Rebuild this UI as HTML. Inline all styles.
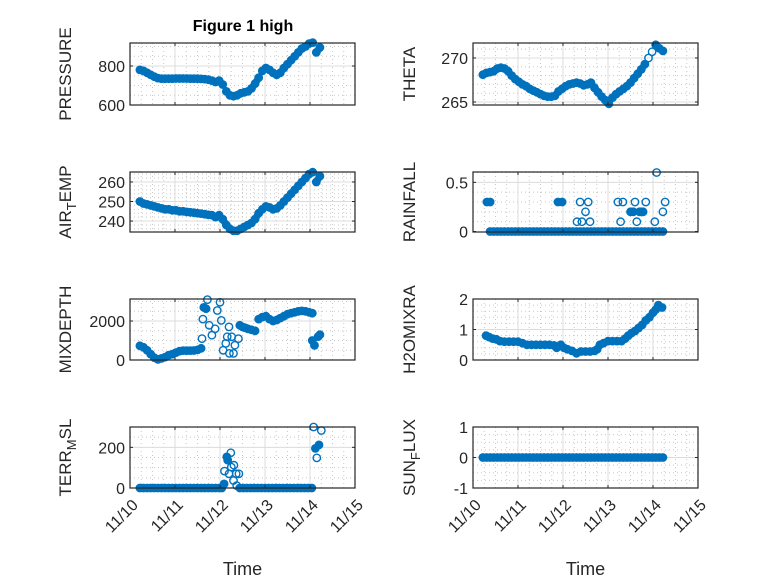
<!DOCTYPE html>
<html><head><meta charset="utf-8"><style>
html,body{margin:0;padding:0;background:#fff;}
svg{display:block;font-family:"Liberation Sans",sans-serif;}
</style></head><body>
<svg id="fig" width="778" height="583" viewBox="0 0 778 583" xmlns="http://www.w3.org/2000/svg">
<rect width="778" height="583" fill="#fff"/>
<text x="243" y="31" text-anchor="middle" font-size="16" font-weight="bold" fill="#000">Figure 1 high</text>
</svg>
<script>
// shared sample times (days after 11/10)
const T = [0.22,0.30,0.38,0.46,0.54,0.62,0.70,0.78,0.86,0.94,1.02,1.10,1.18,1.26,1.34,1.42,1.50,1.58,1.66,1.74,1.82,1.90,1.98,2.06,2.14,2.22,2.30,2.38,2.46,2.54,2.62,2.70,2.78,2.86,2.94,3.02,3.10,3.18,3.26,3.34,3.42,3.50,3.58,3.66,3.74,3.82,3.90,3.98,4.06,4.14,4.22];
const pressure = [780,775,765,755,745,738,735,735,735,735,736,736,736,736,735,735,735,734,733,730,725,718,725,705,670,650,645,650,660,665,670,685,710,740,775,790,780,765,755,765,790,810,830,850,870,890,900,915,920,870,895];
const airTemp = [250,249,248.5,248,247.5,247,246.5,246,246,245.5,245.5,245,245,244.7,244.5,244.3,244,243.8,243.5,243.2,243,242,243,241,238,236,235,235,236,237,238,239,241,244,246,247.5,247,246,246.5,248,250,252,254,256,258,260,262,264,265,260,263];
const theta = [268.1,268.3,268.4,268.5,268.8,268.9,268.8,268.5,268.0,267.6,267.3,267.0,266.8,266.5,266.3,266.1,265.9,265.7,265.6,265.6,265.7,266.2,266.5,266.8,267.0,267.1,267.2,267.1,266.9,267.0,267.2,266.6,266.1,265.6,265.2,264.8,265.5,265.9,266.2,266.5,266.8,267.2,267.7,268.2,268.7,269.3,270.0,270.7,271.5,271.1,270.8];
const h2oT = [0.29,0.36,0.44,0.52,0.6,0.7,0.8,0.9,1.0,1.1,1.2,1.3,1.4,1.5,1.6,1.7,1.8,1.86,1.95,2.02,2.1,2.2,2.3,2.4,2.5,2.6,2.7,2.76,2.82,2.9,3.0,3.1,3.2,3.3,3.38,3.45,3.52,3.6,3.68,3.76,3.84,3.92,4.0,4.06,4.12,4.2];
const h2o = [0.8,0.75,0.7,0.68,0.62,0.6,0.6,0.6,0.6,0.55,0.5,0.5,0.5,0.5,0.5,0.5,0.48,0.4,0.5,0.4,0.35,0.3,0.22,0.28,0.28,0.28,0.3,0.35,0.5,0.55,0.62,0.62,0.62,0.62,0.7,0.8,0.88,0.95,1.05,1.15,1.3,1.4,1.55,1.65,1.8,1.72];
const sunFlux = [0,0,0,0,0,0,0,0,0,0,0,0,0,0,0,0,0,0,0,0,0,0,0,0,0,0,0,0,0,0,0,0,0,0,0,0,0,0,0,0,0,0,0,0,0,0,0,0,0,0,0];
const rainT = [0.31,0.38,1.89,1.98,2.31,2.38,2.42,2.5,2.56,2.6,3.22,3.28,3.33,3.5,3.56,3.6,3.64,3.7,3.74,3.78,3.84,4.04,4.08,4.22,4.27,
  0.38,0.46,0.54,0.62,0.70,0.78,0.86,0.94,1.02,1.10,1.18,1.26,1.34,1.42,1.50,1.58,1.66,1.74,1.82,1.90,1.98,2.06,2.14,2.22,2.30,2.38,2.46,2.54,2.62,2.70,2.78,2.86,2.94,3.02,3.10,3.18,3.26,3.34,3.42,3.50,3.58,3.66,3.74,3.82,3.90,3.98,4.06,4.14,4.22];
const rain = [0.3,0.3,0.3,0.3,0.1,0.3,0.1,0.2,0.3,0.1,0.3,0.1,0.3,0.2,0.2,0.3,0.1,0.2,0.2,0.2,0.3,0.1,0.6,0.2,0.3,
  0,0,0,0,0,0,0,0,0,0,0,0,0,0,0,0,0,0,0,0,0,0,0,0,0,0,0,0,0,0,0,0,0,0,0,0,0,0,0,0,0,0,0,0,0,0,0,0,0];
const mixT = [0.22,0.30,0.38,0.46,0.54,0.62,0.70,0.78,0.86,0.94,1.02,1.10,1.18,1.26,1.34,1.42,1.50,1.58,1.60,1.62,1.64,1.69,1.72,1.76,1.82,1.89,1.94,2.0,2.03,2.07,2.13,2.16,2.2,2.21,2.26,2.3,2.33,2.41,2.44,2.5,2.56,2.62,2.7,2.78,2.86,2.94,3.02,3.1,3.18,3.26,3.34,3.42,3.5,3.58,3.66,3.74,3.82,3.9,3.98,4.05,4.05,4.1,4.18,4.22];
const mixDepth = [730,650,500,300,120,30,80,150,250,300,380,450,480,480,480,490,520,600,1100,2100,2700,2630,3100,1780,1270,1600,2540,2960,2030,500,850,1190,1700,340,1190,340,760,1100,1780,1700,1650,1600,1550,1500,2100,2200,2250,2100,2000,2050,2150,2250,2350,2400,2450,2500,2520,2500,2450,2400,1000,750,1200,1300];
const terrT = [0.22,0.30,0.38,0.46,0.54,0.62,0.70,0.78,0.86,0.94,1.02,1.10,1.18,1.26,1.34,1.42,1.50,1.58,1.66,1.74,1.82,1.90,1.98,2.04,2.09,2.10,2.15,2.17,2.20,2.24,2.25,2.30,2.31,2.36,2.37,2.42,2.44,2.52,2.60,2.68,2.76,2.84,2.92,3.00,3.08,3.16,3.24,3.32,3.40,3.48,3.56,3.64,3.72,3.80,3.88,3.96,4.04,4.08,4.25,4.12,4.20,4.15];
const terr = [0,0,0,0,0,0,0,0,0,0,0,0,0,0,0,0,0,0,0,0,0,0,0,0,20,83,153,137,70,173,103,37,112,70,12,70,0,0,0,0,0,0,0,0,0,0,0,0,0,0,0,0,0,0,0,0,0,300,283,195,212,148];
const xTickLabels = ['11/10','11/11','11/12','11/13','11/14','11/15'];

const NS='http://www.w3.org/2000/svg';
const svg=document.getElementById('fig');
function mk(tag,attrs,parent){const e=document.createElementNS(NS,tag);for(const k in attrs)e.setAttribute(k,attrs[k]);(parent||svg).appendChild(e);return e;}

const cols=[{x0:130,x1:355},{x0:473,x1:698}];
const rows=[{y0:43,y1:105},{y0:172,y1:232},{y0:299,y1:360},{y0:427,y1:488}];

const panels=[
 {name:'pressure',col:0,row:0,ylim:[600,918],ticks:[600,800],minor:50,t:T,v:pressure,label:['PRESSURE']},
 {name:'theta',col:1,row:0,ylim:[264.66,271.7],ticks:[265,270],minor:1,t:T,v:theta,label:['THETA']},
 {name:'air-temp',col:0,row:1,ylim:[234.4,265.1],ticks:[240,250,260],minor:2,t:T,v:airTemp,label:['AIR','T','EMP']},
 {name:'rainfall',col:1,row:1,ylim:[-0.005,0.605],ticks:[0,0.5],minor:0.1,t:rainT,v:rain,label:['RAINFALL']},
 {name:'mixdepth',col:0,row:2,ylim:[0,3130],ticks:[0,2000],minor:500,t:mixT,v:mixDepth,label:['MIXDEPTH']},
 {name:'h2omixra',col:1,row:2,ylim:[0,2],ticks:[0,1,2],minor:0.2,t:h2oT,v:h2o,label:['H2OMIXRA']},
 {name:'terr-msl',col:0,row:3,ylim:[0,300],ticks:[0,200],minor:50,t:terrT,v:terr,label:['TERR','M','SL']},
 {name:'sun-flux',col:1,row:3,ylim:[-1,1],ticks:[-1,0,1],minor:0.25,t:T,v:sunFlux,label:['SUN','F','LUX']},
];

panels.forEach(p=>{
  const c=cols[p.col], r=rows[p.row];
  const sx=d=>c.x0+(d/5)*(c.x1-c.x0);
  const sy=v=>r.y1-(v-p.ylim[0])/(p.ylim[1]-p.ylim[0])*(r.y1-r.y0);
  const g=mk('g',{});
  
  
  for(let d=0.25;d<5;d+=0.25){ if(Math.abs(d-Math.round(d))<1e-6)continue;
    mk('line',{x1:sx(d),x2:sx(d),y1:r.y0,y2:r.y1,stroke:'#c8c8c8','stroke-width':1,'stroke-dasharray':'1 3'},g);}
  const start=Math.ceil(p.ylim[0]/p.minor)*p.minor;
  for(let v=start;v<=p.ylim[1]+1e-9;v+=p.minor){ if(p.ticks.some(t=>Math.abs(t-v)<1e-6))continue;
    mk('line',{x1:c.x0,x2:c.x1,y1:sy(v),y2:sy(v),stroke:'#c8c8c8','stroke-width':1,'stroke-dasharray':'1 3'},g);}
  for(let d=1;d<5;d++) mk('line',{x1:sx(d),x2:sx(d),y1:r.y0,y2:r.y1,stroke:'#dcdcdc','stroke-width':1},g);
  p.ticks.forEach(v=>{const y=sy(v); if(y>r.y0+1&&y<r.y1-1) mk('line',{x1:c.x0,x2:c.x1,y1:y,y2:y,stroke:'#dcdcdc','stroke-width':1},g);});
  // dense band: join neighbouring samples (emulates overlapping markers)
  const bg=mk('g',{stroke:'#0072BD','stroke-width':7,'stroke-linecap':'round',fill:'none'},g);
  
  
  for(let i=1;i<p.t.length;i++){
    const x0=sx(p.t[i-1]),x1=sx(p.t[i]),y0=sy(p.v[i-1]),y1=sy(p.v[i]);
    if(x1>x0 && x1-x0<6 && Math.abs(y1-y0)<6) mk('line',{x1:x0,y1:y0,x2:x1,y2:y1},bg);
  }
  const dg=mk('g',{fill:'none',stroke:'#0072BD','stroke-width':1.4},g);
  
  
  p.t.forEach((d,i)=>{
    const m=mk('circle',{cx:sx(d).toFixed(1),cy:sy(p.v[i]).toFixed(1),r:3.7},dg);
    
    
  });
  const bx=mk('rect',{x:c.x0,y:r.y0,width:c.x1-c.x0,height:r.y1-r.y0,fill:'none',stroke:'#262626','stroke-width':1.2},g);
  
  
  for(let d=0;d<=5;d++){const x=sx(d);
    mk('line',{x1:x,x2:x,y1:r.y1,y2:r.y1-3,stroke:'#262626'},g);
    mk('line',{x1:x,x2:x,y1:r.y0,y2:r.y0+3,stroke:'#262626'},g);}
  p.ticks.forEach(v=>{const y=sy(v);
    mk('line',{x1:c.x0,x2:c.x0+3,y1:y,y2:y,stroke:'#262626'},g);
    mk('line',{x1:c.x1,x2:c.x1-3,y1:y,y2:y,stroke:'#262626'},g);
    const t=mk('text',{x:c.x0-5,y:y+6,'text-anchor':'end','font-size':16,fill:'#262626'},g);
    t.textContent=String(v);
    
    
  });
  const lx=c.x0-(p.col===0?59:58), ly=(r.y0+r.y1)/2;
  const lab=mk('text',{x:lx,y:ly,'text-anchor':'middle','font-size':17,fill:'#262626',transform:`rotate(-90 ${lx} ${ly})`},g);
  
  
  if(p.label.length===1){lab.textContent=p.label[0];}
  else{
    const a=mk('tspan',{},lab);a.textContent=p.label[0];
    const b=mk('tspan',{dy:5,'font-size':13},lab);b.textContent=p.label[1];
    const cc=mk('tspan',{dy:-5},lab);cc.textContent=p.label[2];
  }
  if(p.row===3){
    xTickLabels.forEach((s,i)=>{const x=sx(i)+9,y=r.y1+18;
      const t=mk('text',{x:x,y:y,'text-anchor':'end','font-size':16,fill:'#262626',transform:`rotate(-45 ${x} ${y})`},g);
      t.textContent=s;
      
      
    });
    const xt=mk('text',{x:(c.x0+c.x1)/2,y:575,'text-anchor':'middle','font-size':18,fill:'#262626'},g);
    xt.textContent='Time';
    
    
  }
});
</script>
</body></html>
